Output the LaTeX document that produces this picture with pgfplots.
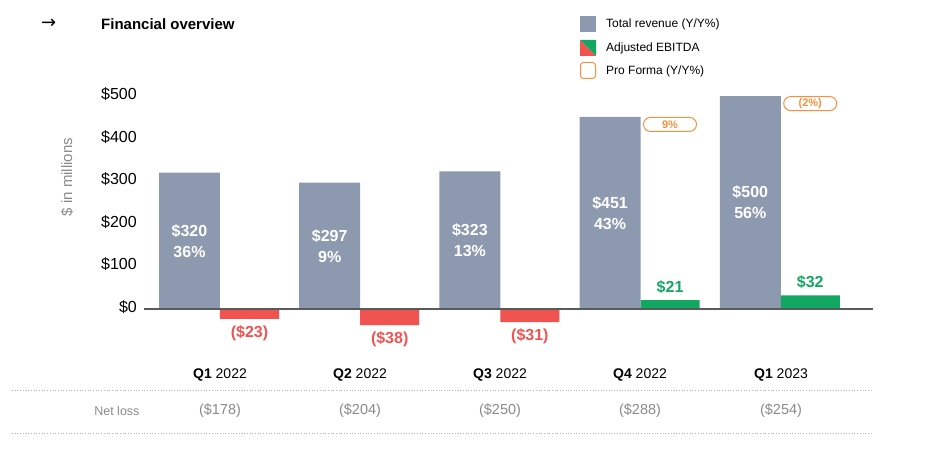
\documentclass[border=0pt]{standalone}
\usepackage{pgfplots}
\pgfplotsset{compat=1.18}
\usepackage{fontspec}
\setmainfont{Liberation Sans}
\newfontfamily\arrowfont{DejaVu Sans}
\definecolor{revgray}{HTML}{8D99AE}
\definecolor{ebred}{HTML}{F05350}
\definecolor{ebgreen}{HTML}{12A862}
\definecolor{proorange}{HTML}{F5913E}
\definecolor{axisgray}{HTML}{5A5A5A}
\definecolor{lightgray}{HTML}{8A8A8A}
\begin{document}
\begin{tikzpicture}
\path[use as bounding box] (0pt,0pt) rectangle (936pt,449pt);
% header
\node[anchor=west,inner sep=0pt,font=\arrowfont\fontsize{18}{18}\selectfont] at (41pt,425pt) {→};
\node[anchor=west,inner sep=0pt,font=\bfseries\fontsize{15}{15}\selectfont] at (101pt,425pt) {Financial overview};
% legend
\fill[revgray] (580pt,433pt) rectangle (596pt,417pt);
\fill[ebred] (580pt,409pt) -- (580pt,393pt) -- (596pt,393pt) -- cycle;
\fill[ebgreen] (580pt,409pt) -- (596pt,409pt) -- (596pt,393pt) -- cycle;
\draw[proorange, rounded corners=3pt, line width=1pt] (580.5pt,386.5pt) rectangle (595.5pt,370.5pt);
\node[anchor=west,inner sep=0pt,font=\fontsize{12}{12}\selectfont] at (606pt,425pt) {Total revenue (Y/Y\%)};
\node[anchor=west,inner sep=0pt,font=\fontsize{12}{12}\selectfont] at (606pt,401pt) {Adjusted EBITDA};
\node[anchor=west,inner sep=0pt,font=\fontsize{12}{12}\selectfont] at (606pt,378pt) {Pro Forma (Y/Y\%)};
% y label
\node[rotate=90,text=lightgray,font=\fontsize{15}{15}\selectfont] at (67pt,272pt) {\$ in millions};
\begin{axis}[
  at={(144pt,114.4pt)}, anchor=south west, scale only axis,
  width=729pt, height=247.08pt,
  xmin=-0.542, xmax=4.658, ymin=-60, ymax=520,
  axis line style={draw=none},
  xtick=\empty,
  ytick={0,100,200,300,400,500},
  yticklabels={\$0,\$100,\$200,\$300,\$400,\$500},
  major tick length=0pt,
  yticklabel style={font=\fontsize{16}{16}\selectfont, inner sep=0pt, xshift=-7pt, yshift=2pt},
  clip=false,
]
\addplot[ybar, bar width=0.435, bar shift=-0.2175, fill=revgray, draw=none]
  coordinates {(0,320) (1,297) (2,323) (3,451) (4,500)};
\addplot[ybar, bar width=0.421, bar shift=0.2105, fill=ebred, draw=none,
  nodes near coords, point meta=explicit symbolic,
  every node near coord/.style={anchor=north, text=ebred, font=\bfseries\fontsize{16}{16}\selectfont, yshift=-3pt, xshift=29.5pt}]
  coordinates {(0,-23) [(\$23)] (1,-38) [(\$38)] (2,-31) [(\$31)]};
\addplot[ybar, bar width=0.421, bar shift=0.2105, fill=ebgreen, draw=none,
  nodes near coords, point meta=explicit symbolic,
  every node near coord/.style={anchor=south, text=ebgreen, font=\bfseries\fontsize{16}{16}\selectfont, yshift=3pt, xshift=29.5pt}]
  coordinates {(3,21) [\$21] (4,32) [\$32]};
\draw[axisgray, line width=1.5pt] (axis cs:-0.542,0) -- (axis cs:4.658,0);
% labels inside revenue bars
\foreach \x/\v/\a/\b in {0/320/\$320/36\%, 1/297/\$297/9\%, 2/323/\$323/13\%, 3/451/\$451/43\%, 4/500/\$500/56\%}{
  \edef\temp{\noexpand\node[align=center, text=white, font=\noexpand\bfseries\noexpand\fontsize{16}{21}\noexpand\selectfont] at (axis cs:\x-0.2175,\v/2) {\a\noexpand\\\b};}
  \temp
}
% pro forma badges
\node[draw=proorange, line width=1pt, rounded corners=7pt, minimum width=53pt, minimum height=14pt, inner sep=0pt, text=proorange, font=\bfseries\fontsize{11}{11}\selectfont, anchor=north] at (axis cs:3.21,451) {9\%};
\node[draw=proorange, line width=1pt, rounded corners=7pt, minimum width=53pt, minimum height=14pt, inner sep=0pt, text=proorange, font=\bfseries\fontsize{11}{11}\selectfont, anchor=north] at (axis cs:4.21,500) {(2\%)};
\end{axis}
% bottom table
\foreach \x/\q/\yr in {220/Q1/2022, 360/Q2/2022, 500/Q3/2022, 640/Q4/2022, 781/Q1/2023}{
  \node[font=\fontsize{14}{14}\selectfont] at (\x pt,74pt) {\textbf{\q} \yr};
}
\draw[lightgray!70, dotted, line width=0.7pt] (12pt,59pt) -- (872pt,59pt);
\node[anchor=east, text=lightgray, font=\fontsize{12.5}{12.5}\selectfont] at (143pt,38pt) {Net loss};
\foreach \x/\v in {220/178, 360/204, 500/250, 640/288, 781/254}{
  \node[text=lightgray, font=\fontsize{14.5}{14.5}\selectfont] at (\x pt,38pt) {(\$\v)};
}
\draw[lightgray!70, dotted, line width=0.7pt] (12pt,16pt) -- (872pt,16pt);
\end{tikzpicture}
\end{document}
